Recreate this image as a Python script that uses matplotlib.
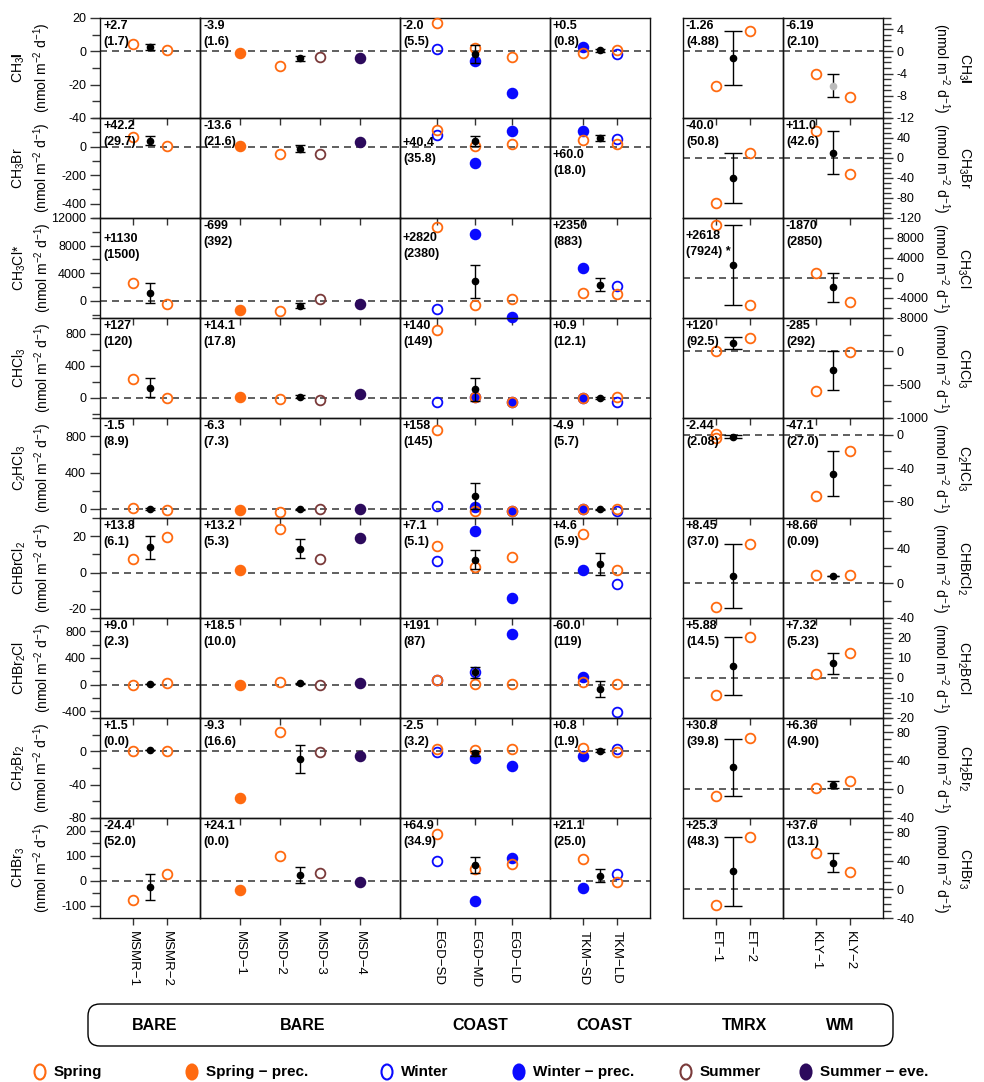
import numpy as np
import matplotlib.pyplot as plt
from matplotlib.patches import FancyBboxPatch, Ellipse
from matplotlib.ticker import MultipleLocator

plt.rcParams['font.family'] = ['Liberation Sans', 'DejaVu Sans']
plt.rcParams['mathtext.fontset'] = 'custom'
plt.rcParams['mathtext.rm'] = 'Liberation Sans'
plt.rcParams['mathtext.it'] = 'Liberation Sans:italic'
plt.rcParams['mathtext.bf'] = 'Liberation Sans:bold'
plt.rcParams['axes.unicode_minus'] = False

nan = np.nan

# sites per panel column (4 left panels, 2 right panels)
GROUPS = [['MSMR−1', 'MSMR−2'],
          ['MSD−1', 'MSD−2', 'MSD−3', 'MSD−4'],
          ['EGD−SD', 'EGD−MD', 'EGD−LD'],
          ['TKM−SD', 'TKM−LD'],
          ['ET−1', 'ET−2'],
          ['KLY−1', 'KLY−2']]
GROUP_TAGS = ['BARE', 'BARE', 'COAST', 'COAST', 'TMRX', 'WM']

UNIT = '(nmol m$^{-2}$ d$^{-1}$)'
LEFT_LABELS = ['CH$_3$$\\mathbf{I}$', 'CH$_3$Br', 'CH$_3$Cl*', 'CHCl$_3$', 'C$_2$HCl$_3$',
               'CHBrCl$_2$', 'CHBr$_2$Cl', 'CH$_2$Br$_2$', 'CHBr$_3$']
RIGHT_LABELS = ['CH$_3$$\\mathbf{I}$', 'CH$_3$Br', 'CH$_3$Cl', 'CHCl$_3$', 'C$_2$HCl$_3$',
                'CHBrCl$_2$', 'CH$_2$BrCl', 'CH$_2$Br$_2$', 'CHBr$_3$']

# open orange: spring
SPRING_SITES = ['MSMR−1', 'MSMR−2', 'MSD−2', 'EGD−SD', 'EGD−MD', 'EGD−LD',
                'TKM−SD', 'TKM−LD', 'ET−1', 'ET−2', 'KLY−1', 'KLY−2']
SPRING = [
    [4.2, 0.8, -8.6, 16.8, 2.2, -3.2, -0.8, 0.8, -6.2, 3.7, -4.1, -8.3],
    [69, 6, -54, 116, 4, 16, 46, 16, -90.7, 10.7, 54, -31],
    [2530, -470, -1485, 10740, -615, 210, 1080, 980, 10530, -5330, 940, -4800],
    [242, 0, -16, 850, 16, -50, 0, 16, 5, 195, -600, -15],
    [10, -15, -30, 868, -20, -20, 0, 3, 0.5, nan, -73.9, -20],
    [7.4, 19.7, 24.1, 14.6, 3.2, 8.4, 21.4, 1.6, -27.3, 44.9, 9, 9],
    [-5, 20, 35, 70, 10, 10, 35, 5, -8.3, 20.7, 2.2, 12.7],
    [0.8, 0.8, 22.8, 2.8, 1.6, 2.4, 3.6, -0.4, -9.4, 71.5, 1.4, 11.8],
    [-78, 26, 99, 185, 45, 65, 86, -6, -22, 74, 50.8, 25],
]
# second spring point drawn at ET-1 in the C2HCl3 row
SPRING_EXTRA_SITES = ['ET−1']
SPRING_EXTRA = [[nan], [nan], [nan], [nan], [-4.5], [nan], [nan], [nan], [nan]]

SPRING_PREC_SITES = ['MSD−1']
SPRING_PREC = [[-0.8], [4], [-1340], [10], [-12], [1.2], [-10], [-56.4], [-37]]

SUMMER_SITES = ['MSD−3']
SUMMER = [[-3.2], [-54], [255], [-25], [3], [7.6], [-10], [-1.2], [31]]

SUMMER_EVE_SITES = ['MSD−4']
SUMMER_EVE = [[-4.2], [34], [-510], [54], [3], [18.8], [20], [-5.6], [-4]]

WINTER_SITES = ['EGD−SD', 'EGD−MD', 'TKM−LD']
WINTER = [
    [1.2, nan, -1.6], [83, nan, 51], [-1150, nan, 2140], [-54, nan, -46],
    [32, nan, -23], [6.5, nan, -6.3], [70, 185, -415], [-0.4, nan, 3.2], [77, nan, 26],
]

WINTER_PREC_SITES = ['EGD−MD', 'EGD−LD', 'TKM−SD']
WINTER_PREC = [
    [-5.6, -24.8, 2.4], [-115, 109, 109], [9630, -2400, 4800], [16, -50, 5],
    [25, -20, 0], [22.8, -14.2, 1.4], [nan, 760, 120], [-7.6, -17.2, -5.2], [-82, 89, -29],
]

# panel means and spread (black dots with error bars)
MEANS = [
    [2.7, -4.2, -1.8, 0.5, -1.26, -6.19],
    [42.2, -13.6, 40.4, 60.0, -40.0, 11.0],
    [1130, -699, 2820, 2350, 2618, -1870],
    [127, 14.1, 108, 0.9, 120, -285],
    [-1.5, -6.3, 141, -4.9, -2.44, -47.1],
    [13.8, 13.2, 7.1, 4.6, 8.45, 8.66],
    [9.0, 18.5, 185, -60.0, 5.88, 7.32],
    [1.5, -9.3, -2.5, 0.8, 30.8, 6.36],
    [-24.4, 22, 62, 20, 25.3, 37.6],
]
ERRS = [
    [1.7, 1.6, 5.5, 0.8, 4.88, 2.10],
    [29.7, 21.6, 35.8, 18.0, 50.8, 42.6],
    [1500, 392, 2380, 883, 7924, 2850],
    [120, 17.8, 145, 12.1, 92.5, 292],
    [8.9, 7.3, 144, 5.7, 2.08, 27.0],
    [6.1, 5.3, 5.1, 5.9, 37.0, 0.09],
    [2.3, 10.0, 87, 119, 14.5, 5.23],
    [0.0, 16.6, 3.2, 1.9, 39.8, 4.90],
    [52.0, 31, 33, 26, 48.3, 13.1],
]
MEAN_TXT = [
    ['+2.7', '-3.9', '-2.0', '+0.5', '-1.26', '-6.19'],
    ['+42.2', '-13.6', '+40.4', '+60.0', '-40.0', '+11.0'],
    ['+1130', '-699', '+2820', '+2350', '+2618', '-1870'],
    ['+127', '+14.1', '+140', '+0.9', '+120', '-285'],
    ['-1.5', '-6.3', '+158', '-4.9', '-2.44', '-47.1'],
    ['+13.8', '+13.2', '+7.1', '+4.6', '+8.45', '+8.66'],
    ['+9.0', '+18.5', '+191', '-60.0', '+5.88', '+7.32'],
    ['+1.5', '-9.3', '-2.5', '+0.8', '+30.8', '+6.36'],
    ['-24.4', '+24.1', '+64.9', '+21.1', '+25.3', '+37.6'],
]
SD_TXT = [
    ['(1.7)', '(1.6)', '(5.5)', '(0.8)', '(4.88)', '(2.10)'],
    ['(29.7)', '(21.6)', '(35.8)', '(18.0)', '(50.8)', '(42.6)'],
    ['(1500)', '(392)', '(2380)', '(883)', '(7924) *', '(2850)'],
    ['(120)', '(17.8)', '(149)', '(12.1)', '(92.5)', '(292)'],
    ['(8.9)', '(7.3)', '(145)', '(5.7)', '(2.08)', '(27.0)'],
    ['(6.1)', '(5.3)', '(5.1)', '(5.9)', '(37.0)', '(0.09)'],
    ['(2.3)', '(10.0)', '(87)', '(119)', '(14.5)', '(5.23)'],
    ['(0.0)', '(16.6)', '(3.2)', '(1.9)', '(39.8)', '(4.90)'],
    ['(52.0)', '(0.0)', '(34.9)', '(25.0)', '(48.3)', '(13.1)'],
]

LEFT_YLIM = [(-40, 20), (-500, 200), (-2500, 12000), (-250, 1000), (-100, 1000),
             (-25, 30), (-500, 1000), (-80, 40), (-150, 250)]
LEFT_YTICKS = [[-40, -20, 0, 20], [-400, -200, 0], [0, 4000, 8000, 12000], [0, 400, 800],
               [0, 400, 800], [-20, 0, 20], [-400, 0, 400, 800], [-80, -40, 0], [-100, 0, 100, 200]]
LEFT_MINOR = [10, 100, 2000, 200, 200, 10, 200, 20, 50]

RIGHT_YLIM = [(-12, 6), (-120, 80), (-8000, 12000), (-1000, 500), (-100, 20),
              (-40, 75), (-20, 30), (-40, 100), (-40, 100)]
RIGHT_YTICKS = [[-12, -8, -4, 0, 4], [-120, -80, -40, 0, 40], [-8000, -4000, 0, 4000, 8000],
                [-1000, -500, 0], [-80, -40, 0], [-40, 0, 40], [-20, -10, 0, 10, 20],
                [-40, 0, 40, 80], [-40, 0, 40, 80]]
RIGHT_MINOR = [1, 10, 2000, 250, 20, 20, 2.5, 10, 10]

ORANGE = '#ff6a10'
BLUE = '#0a0aff'
BROWN = '#7a3a3a'
PURPLE = '#2c0a5c'

W, H = 984, 1082
fig = plt.figure(figsize=(W / 100, H / 100), dpi=100)
gl = fig.add_gridspec(9, 4, left=100 / W, right=650 / W, top=1 - 18 / H, bottom=1 - 918 / H,
                      width_ratios=[100, 200, 150, 100], hspace=0, wspace=0)
gr = fig.add_gridspec(9, 2, left=683 / W, right=883 / W, top=1 - 18 / H, bottom=1 - 918 / H,
                      hspace=0, wspace=0)
axes = [[fig.add_subplot(gl[r, g]) for g in range(4)] +
        [fig.add_subplot(gr[r, g]) for g in range(2)] for r in range(9)]

ANNOT_DROP = {(1, 2): 17, (1, 3): 29, (2, 0): 13, (2, 2): 12, (2, 4): 10}
CAPS = [3.5, 3.5, 3.5, 3.5, 6.5, 4.5]

for r in range(9):
    for g in range(6):
        ax = axes[r][g]
        n = len(GROUPS[g])
        ax.set_facecolor('none')
        ax.set_xlim(0, n + 1)
        ax.set_ylim(*(LEFT_YLIM[r] if g < 4 else RIGHT_YLIM[r]))
        ax.axhline(0, color='#444444', lw=1.2, ls=(0, (4.2, 3)), zorder=1)
        ax.set_xticks(range(1, n + 1))
        ax.tick_params(axis='x', direction='out', length=5, width=1, color='#333333',
                       labelbottom=(r == 8), labelsize=9.5, pad=4)
        if r == 8:
            ax.set_xticklabels(GROUPS[g], rotation=270)
        ax.tick_params(axis='y', which='both', left=False, right=False,
                       labelleft=False, labelright=False)
        for sp in ax.spines.values():
            sp.set_linewidth(1)
            sp.set_color('#111111')
        if g == 0:
            ax.set_yticks(LEFT_YTICKS[r])
            ax.yaxis.set_minor_locator(MultipleLocator(LEFT_MINOR[r]))
            ax.tick_params(axis='y', which='both', left=True, labelleft=True,
                           direction='out', color='#333333', width=1)
            ax.tick_params(axis='y', which='major', length=7, labelsize=9, pad=3)
            ax.tick_params(axis='y', which='minor', length=6)
        if g == 5:
            ax.yaxis.tick_right()
            ax.set_yticks(RIGHT_YTICKS[r])
            ax.yaxis.set_minor_locator(MultipleLocator(RIGHT_MINOR[r]))
            ax.tick_params(axis='y', which='both', right=True, labelright=True, left=False,
                           labelleft=False, direction='out', color='#333333', width=1)
            ax.tick_params(axis='y', which='major', length=7, labelsize=9, pad=3)
            ax.tick_params(axis='y', which='minor', length=6)

        # mean +/- spread
        dot = '#bbbbbb' if (r == 0 and g == 5) else 'black'
        ax.errorbar((n + 1) / 2, MEANS[r][g], yerr=ERRS[r][g], fmt='o', ms=4.5,
                    mfc=dot, mec=dot, ecolor='black', elinewidth=1, capsize=CAPS[g],
                    capthick=1, zorder=5, clip_on=False)
        drop = ANNOT_DROP.get((r, g), 0)
        ax.annotate(MEAN_TXT[r][g] + '\n' + SD_TXT[r][g], xy=(0, 1), xycoords='axes fraction',
                    xytext=(3, -(2 + drop)), textcoords='offset pixels', ha='left', va='top',
                    fontsize=9, fontweight='bold', linespacing=1.45, zorder=6)


def draw_series(sites, values, face, edge):
    for j, site in enumerate(sites):
        g = next(k for k, names in enumerate(GROUPS) if site in names)
        x = GROUPS[g].index(site) + 1
        for r in range(9):
            v = values[r][j]
            if np.isnan(v):
                continue
            axes[r][g].plot(x, v, 'o', ms=7, mew=1.3, mfc=face, mec=edge,
                            clip_on=False, zorder=3)


draw_series(WINTER_PREC_SITES, WINTER_PREC, BLUE, BLUE)
draw_series(SPRING_PREC_SITES, SPRING_PREC, ORANGE, ORANGE)
draw_series(SUMMER_EVE_SITES, SUMMER_EVE, PURPLE, PURPLE)
draw_series(SUMMER_SITES, SUMMER, 'none', BROWN)
draw_series(WINTER_SITES, WINTER, 'none', BLUE)
draw_series(SPRING_SITES, SPRING, 'none', ORANGE)
draw_series(SPRING_EXTRA_SITES, SPRING_EXTRA, 'none', ORANGE)

# row labels
for r in range(9):
    yc = 1 - (68 + 100 * r) / H
    fig.text(32 / W, yc, LEFT_LABELS[r] + '\n' + UNIT, rotation=90, ha='center', va='center',
             multialignment='center', fontsize=10, linespacing=1.3)
    fig.text(951 / W, yc, RIGHT_LABELS[r] + '\n' + UNIT, rotation=270, ha='center', va='center',
             multialignment='center', fontsize=10, linespacing=1.3)

# overlay in pixel units for the group box and the legend
over = fig.add_axes([0, 0, 1, 1])
over.set_xlim(0, W)
over.set_ylim(H, 0)
over.axis('off')
over.add_patch(FancyBboxPatch((88, 1004), 805, 42, boxstyle='round,pad=0,rounding_size=12',
                              fc='none', ec='black', lw=1))
for tag, xc in zip(GROUP_TAGS, [155, 303, 480, 604, 745, 840]):
    over.text(xc, 1025, tag, ha='center', va='center', fontsize=11.5, fontweight='bold')

LEGEND = [('Spring', 'none', ORANGE), ('Spring − prec.', ORANGE, ORANGE),
          ('Winter', 'none', BLUE), ('Winter − prec.', BLUE, BLUE),
          ('Summer', 'none', BROWN), ('Summer − eve.', PURPLE, PURPLE)]
for (name, face, edge), xm in zip(LEGEND, [40, 192, 387, 519, 686, 806]):
    over.add_patch(Ellipse((xm, 1072), 11, 15, fc=face, ec=edge, lw=1.5))
    over.text(xm + 14, 1072, name, ha='left', va='center', fontsize=11, fontweight='bold')

fig.savefig('out.png', dpi=100)
